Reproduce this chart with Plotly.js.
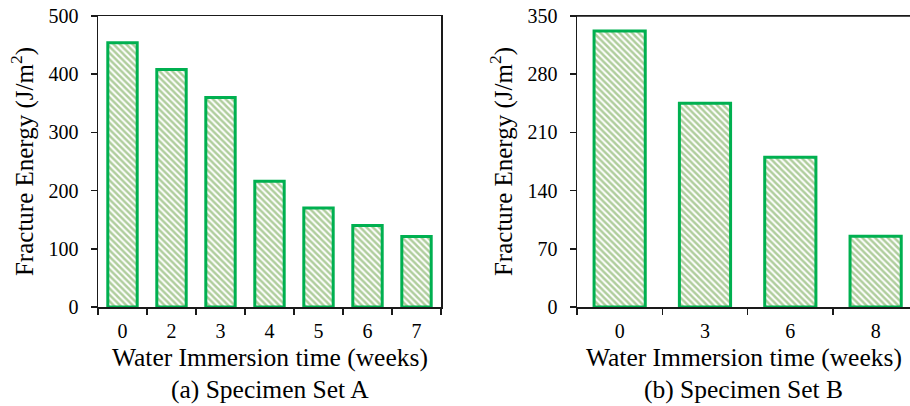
<!DOCTYPE html>
<html>
<head>
<meta charset="utf-8">
<script src="https://cdn.plot.ly/plotly-3.0.1.min.js"></script>
<style>
html,body{margin:0;padding:0;overflow:hidden;background:#fff;width:910px;height:406px;}
#chart{width:920px;height:406px;}
</style>
</head>
<body>
<div id="chart"></div>
<script>
// Data
const weeksA = ['0','2','3','4','5','6','7'];
const energyA = [454, 408, 360, 216, 170, 140, 121];
const weeksB = ['0','3','6','8'];
const energyB = [332, 245, 180, 85];
const yTitle = 'Fracture Energy (J/m<sup>2</sup>)';
const xTitle = 'Water Immersion time (weeks)';
const subA = '(a) Specimen Set A';
const subB = '(b) Specimen Set B';

const W = 920;
const fontFam = '"Liberation Serif", "Times New Roman", serif';
const barMarker = {
  color: '#ffffff',
  line: {color: '#00b050', width: 3},
  pattern: {shape: '\\', fgcolor: '#5f9c3a', bgcolor: '#ffffff', size: 4.5, solidity: 0.55, fillmode: 'overlay'}
};

const traces = [
  {type: 'bar', x: weeksA, y: energyA, xaxis: 'x', yaxis: 'y', width: 0.6, marker: barMarker, hoverinfo: 'none'},
  {type: 'bar', x: weeksB, y: energyB, xaxis: 'x2', yaxis: 'y2', width: 0.6, marker: barMarker, hoverinfo: 'none'}
];

const axisCommon = {
  showline: true, linecolor: '#1a1a1a', linewidth: 1.5,
  showgrid: false, zeroline: false,
  ticks: 'outside', ticklen: 6, tickwidth: 1.5, tickcolor: '#1a1a1a',
  tickfont: {family: fontFam, size: 20, color: '#000'},
  fixedrange: true
};

const titleFont = {family: fontFam, size: 25.5, color: '#000'};

const layout = {
  width: W, height: 406,
  margin: {l: 0, r: 0, t: 16, b: 99, autoexpand: false},
  paper_bgcolor: '#fff', plot_bgcolor: '#fff',
  showlegend: false,
  font: {family: fontFam, color: '#000'},
  xaxis: Object.assign({}, axisCommon, {
    type: 'category', domain: [98/W, 441/W], anchor: 'y', tickson: 'boundaries', mirror: true,
    ticklabelstandoff: 5
  }),
  yaxis: Object.assign({}, axisCommon, {
    range: [0, 500], dtick: 100, tick0: 0, anchor: 'x', mirror: true, ticklabelstandoff: 8,
    title: {text: yTitle, font: {family: fontFam, size: 25, color: '#000'}, standoff: 8}
  }),
  xaxis2: Object.assign({}, axisCommon, {
    type: 'category', domain: [577/W, 918.3/W], anchor: 'y2', tickson: 'boundaries', mirror: true,
    ticklabelstandoff: 5
  }),
  yaxis2: Object.assign({}, axisCommon, {
    range: [0, 350], dtick: 70, tick0: 0, anchor: 'x2', mirror: false, ticklabelstandoff: 8,
    title: {text: yTitle, font: {family: fontFam, size: 25, color: '#000'}, standoff: 8}
  }),
  shapes: [
    {type: 'line', xref: 'paper', yref: 'paper', x0: 577/W, x1: 1, y0: 1, y1: 1, line: {color: '#1a1a1a', width: 1.5}}
  ],
  annotations: [
    {text: xTitle, xref: 'paper', yref: 'paper', x: (98+441)/2/W, y: -0.175, xanchor: 'center', yanchor: 'middle', showarrow: false, font: titleFont},
    {text: subA, xref: 'paper', yref: 'paper', x: (98+441)/2/W, y: -0.285, xanchor: 'center', yanchor: 'middle', showarrow: false, font: titleFont},
    {text: xTitle, xref: 'paper', yref: 'paper', x: (577+910)/2/W, y: -0.175, xanchor: 'center', yanchor: 'middle', showarrow: false, font: titleFont},
    {text: subB, xref: 'paper', yref: 'paper', x: (577+910)/2/W, y: -0.285, xanchor: 'center', yanchor: 'middle', showarrow: false, font: titleFont}
  ]
};

Plotly.newPlot('chart', traces, layout, {displayModeBar: false, staticPlot: true});
</script>
</body>
</html>
